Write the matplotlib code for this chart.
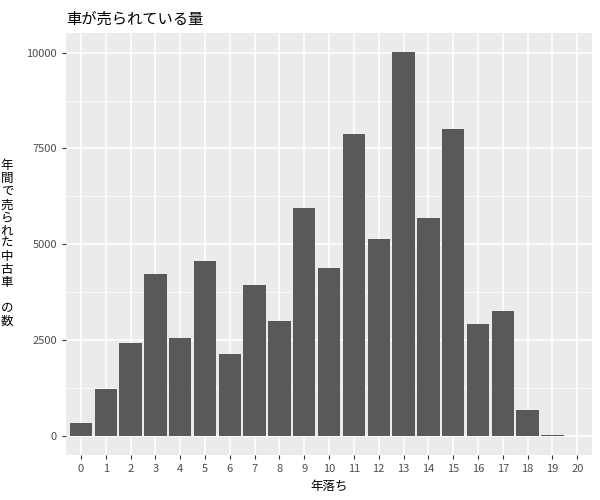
import matplotlib
matplotlib.use("Agg")
import matplotlib.pyplot as plt

plt.rcParams['font.family'] = ['Noto Sans CJK JP', 'DejaVu Sans']

ages = list(range(21))
counts = [340, 1230, 2410, 4215, 2565, 4555, 2147, 3927, 2984, 5942, 4372,
          7880, 5131, 10026, 5681, 8010, 2906, 3246, 680, 30, 0]
yticks = [0, 2500, 5000, 7500, 10000]

fig = plt.figure(figsize=(6, 5), dpi=100)
ax = fig.add_axes([0.11, 0.09, 0.877, 0.845])
ax.set_facecolor('#EBEBEB')
ax.bar(ages, counts, width=0.9, color='#595959', zorder=3)
ax.set_xlim(-0.6, 20.6)
ax.set_ylim(-501, 10527)
ax.set_xticks(ages)
ax.set_yticks(yticks)
ax.set_yticks([1250, 3750, 6250, 8750], minor=True)
ax.set_xticks([], minor=True)
ax.grid(which='major', color='white', linewidth=1.1, zorder=0)
ax.grid(which='minor', axis='y', color='white', linewidth=0.5, zorder=0)
ax.grid(which='major', axis='x', color='white', linewidth=1.1, zorder=0)
for s in ax.spines.values():
    s.set_visible(False)
ax.tick_params(which='both', length=3, color='#333333', labelsize=8, labelcolor='#4D4D4D')
ax.tick_params(which='minor', length=0)
ax.set_xlabel('年落ち', fontsize=9)
ax.set_ylabel('\n'.join('年間で売られた中古車') + '\n \nの\n数', fontsize=9,
              rotation=0, va='center', ha='center', labelpad=14, linespacing=1.0)
ax.set_title('車が売られている量', loc='left', fontsize=11)
fig.savefig('out.png')
